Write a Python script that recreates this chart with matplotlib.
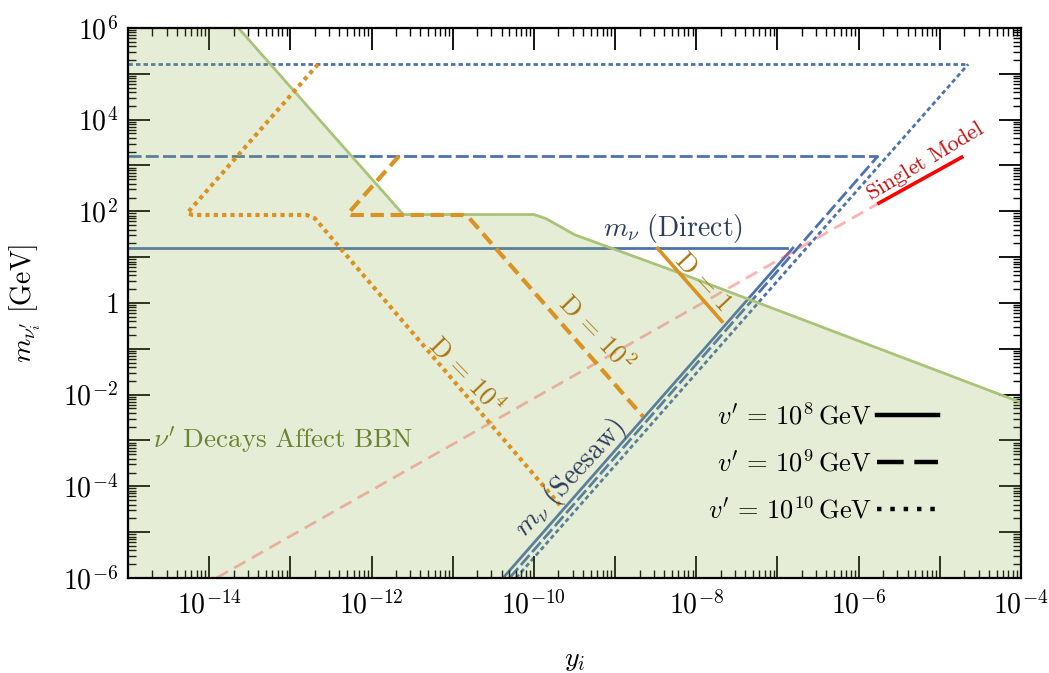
import numpy as np
import matplotlib
matplotlib.use("Agg")
import matplotlib.pyplot as plt
from matplotlib.lines import Line2D
from matplotlib.ticker import FixedLocator, FuncFormatter, LogLocator, NullFormatter

plt.rcParams['mathtext.fontset'] = 'cm'
plt.rcParams['font.family'] = ['serif']
plt.rcParams['font.serif'] = ['cmr10', 'DejaVu Serif']
plt.rcParams['axes.formatter.use_mathtext'] = True

# ---- data (log10 of y_i, log10 of m [GeV]) ----
bbn_lx = [-15.0, -13.64, -11.61, -10.0, -9.85, -9.70, -9.50, -8.20, -4.0]
bbn_lm = [6.0, 6.0, 1.93, 1.93, 1.84, 1.69, 1.49, 0.65, -2.17]

direct_lm = [1.20, 3.21, 5.21]          # v' = 1e8, 1e9, 1e10
direct_end_lx = [-6.88, -5.76, -4.65]
seesaw_bottom_lx = [-10.38, -10.30, -10.22]
seesaw_top_lx = [-6.81, -5.76, -4.65]

d1_lx = [-8.49, -7.67]
d1_lm = [1.22, -0.43]
d2_lx = [-11.66, -12.29, -12.25, -10.88, -10.80, -8.655]
d2_lm = [3.21, 1.95, 1.92, 1.92, 1.86, -2.48]
d4_lx = [-12.66, -14.27, -14.20, -12.80, -12.70, -9.68]
d4_lm = [5.21, 1.96, 1.92, 1.92, 1.85, -4.41]

singlet_dash_lx = [-13.91, -5.75]
singlet_dash_lm = [-6.0, 2.18]
singlet_solid_lx = [-5.75, -4.73]
singlet_solid_lm = [2.18, 3.18]

legend_labels = [r"$v'\,=\,10^{8}\,\mathrm{GeV}$", r"$v'\,=\,10^{9}\,\mathrm{GeV}$",
                 r"$v'\,=\,10^{10}\,\mathrm{GeV}$"]

x_exps = list(range(-15, -3))
y_exps = list(range(-6, 7))


def p(a):
    return 10.0 ** np.asarray(a, dtype=float)


blue = '#4c72b0'
orange = '#da9220'
blue_styles = ['-', (0, (4.7, 1.5)), (0, (1.6, 1.1))]

fig = plt.figure(figsize=(10.49, 6.73), dpi=100)
ax = fig.add_axes([0.1220, 0.1412, 0.8513, 0.8172])
ax.set_xscale('log')
ax.set_yscale('log')
ax.set_xlim(1e-15, 1e-4)
ax.set_ylim(1e-6, 1e6)

# blue lines (below fill)
for lm, ex, bx, tx, ls in zip(direct_lm, direct_end_lx, seesaw_bottom_lx, seesaw_top_lx, blue_styles):
    ax.plot(p([-15, ex]), p([lm, lm]), color=blue, lw=2.0, ls=ls, zorder=1)
    ax.plot(p([bx, tx]), p([-6, lm]), color=blue, lw=2.0, ls=ls, zorder=1)

# singlet dashed extension
ax.plot(p(singlet_dash_lx), p(singlet_dash_lm), color='#ff4040', alpha=0.4, lw=2.0,
        ls=(0, (4.7, 2.6)), zorder=1)

# BBN region
fx = p(bbn_lx + [-4.0, -15.0])
fy = p(bbn_lm + [-6.0, -6.0])
ax.fill(fx, fy, color='#8fb04a', alpha=0.22, lw=0, zorder=2)
ax.plot(p(bbn_lx[1:]), p(bbn_lm[1:]), color='#a9c478', lw=2.0, zorder=2)

# D lines
ax.plot(p(d1_lx), p(d1_lm), color=orange, lw=2.6, zorder=3, solid_capstyle='butt')
ax.plot(p(d2_lx), p(d2_lm), color=orange, lw=3.0, ls=(0, (3.2, 1.6)), zorder=3)
ax.plot(p(d4_lx), p(d4_lm), color=orange, lw=3.0, ls=(0, (1, 1)), zorder=3)

# singlet solid
ax.plot(p(singlet_solid_lx), p(singlet_solid_lm), color='#ff0000', lw=2.6, zorder=4)

# texts
navy = '#2d3e5c'
dcol = '#a8740e'
ax.text(p(-8.29), p(1.62), r"$m_\nu\ (\mathrm{Direct})$", color=navy, fontsize=20,
        ha='center', va='center', zorder=5)
ax.text(p(-9.56), p(-3.82), r"$m_\nu\ (\mathrm{Seesaw})$", color=navy, fontsize=20,
        ha='center', va='center', rotation=47, rotation_mode='anchor', zorder=5)
ax.text(p(-7.92), p(0.47), r"$\mathrm{D}\,=\,1$", color=dcol, fontsize=19,
        ha='center', va='center', rotation=-47, rotation_mode='anchor', zorder=5)
ax.text(p(-9.23), p(-0.66), r"$\mathrm{D}\,=\,10^{2}$", color=dcol, fontsize=19,
        ha='center', va='center', rotation=-46, rotation_mode='anchor', zorder=5)
ax.text(p(-10.83), p(-1.57), r"$\mathrm{D}\,=\,10^{4}$", color=dcol, fontsize=19,
        ha='center', va='center', rotation=-46, rotation_mode='anchor', zorder=5)
ax.text(p(-14.69), p(-2.99), r"$\nu'\ \mathrm{Decays\ Affect\ BBN}$", color='#6a8532',
        fontsize=19.5, ha='left', va='center', zorder=5)
ax.text(p(-5.18), p(3.09), r"$\mathrm{Singlet\ Model}$", color='#c41010', fontsize=16,
        ha='center', va='center', rotation=31, rotation_mode='anchor', zorder=5)

# legend
handles = [Line2D([], [], color='k', lw=3.2, ls=s) for s in
           ['-', (0, (6, 2.4)), (0, (1, 2))]]
ax.legend(handles, legend_labels, loc='center right', bbox_to_anchor=(0.9067, 0.209),
          frameon=False, markerfirst=False, handlelength=2.3, handletextpad=0.2,
          labelspacing=0.78, borderpad=0, borderaxespad=0, fontsize=19)

# ticks
ax.xaxis.set_major_locator(FixedLocator(p(x_exps)))
ax.yaxis.set_major_locator(FixedLocator(p(y_exps)))
ax.xaxis.set_minor_locator(LogLocator(base=10, subs=np.arange(2, 10), numticks=100))
ax.yaxis.set_minor_locator(LogLocator(base=10, subs=np.arange(2, 10), numticks=100))
ax.xaxis.set_minor_formatter(NullFormatter())
ax.yaxis.set_minor_formatter(NullFormatter())


def fmt(v, pos):
    e = int(round(np.log10(v)))
    if e % 2:
        return ''
    if e == 0:
        return r'$1$'
    return r'$10^{%d}$' % e


ax.xaxis.set_major_formatter(FuncFormatter(fmt))
ax.yaxis.set_major_formatter(FuncFormatter(fmt))
ax.tick_params(which='both', direction='in', top=True, right=True, labelsize=20)
ax.tick_params(which='major', length=16, width=1.3)
ax.tick_params(which='minor', length=6, width=1.0)
ax.tick_params(axis='x', which='major', pad=9)
ax.tick_params(axis='y', which='major', pad=7)
for s in ax.spines.values():
    s.set_linewidth(1.6)

ax.set_xlabel(r"$y_i$", fontsize=20)
ax.set_ylabel(r"$m_{\nu_i^{\prime}}\ [\mathrm{GeV}]$", fontsize=20)
ax.xaxis.set_label_coords(0.5, -0.125)
ax.yaxis.set_label_coords(-0.095, 0.5)

fig.savefig('out.png', dpi=100)
